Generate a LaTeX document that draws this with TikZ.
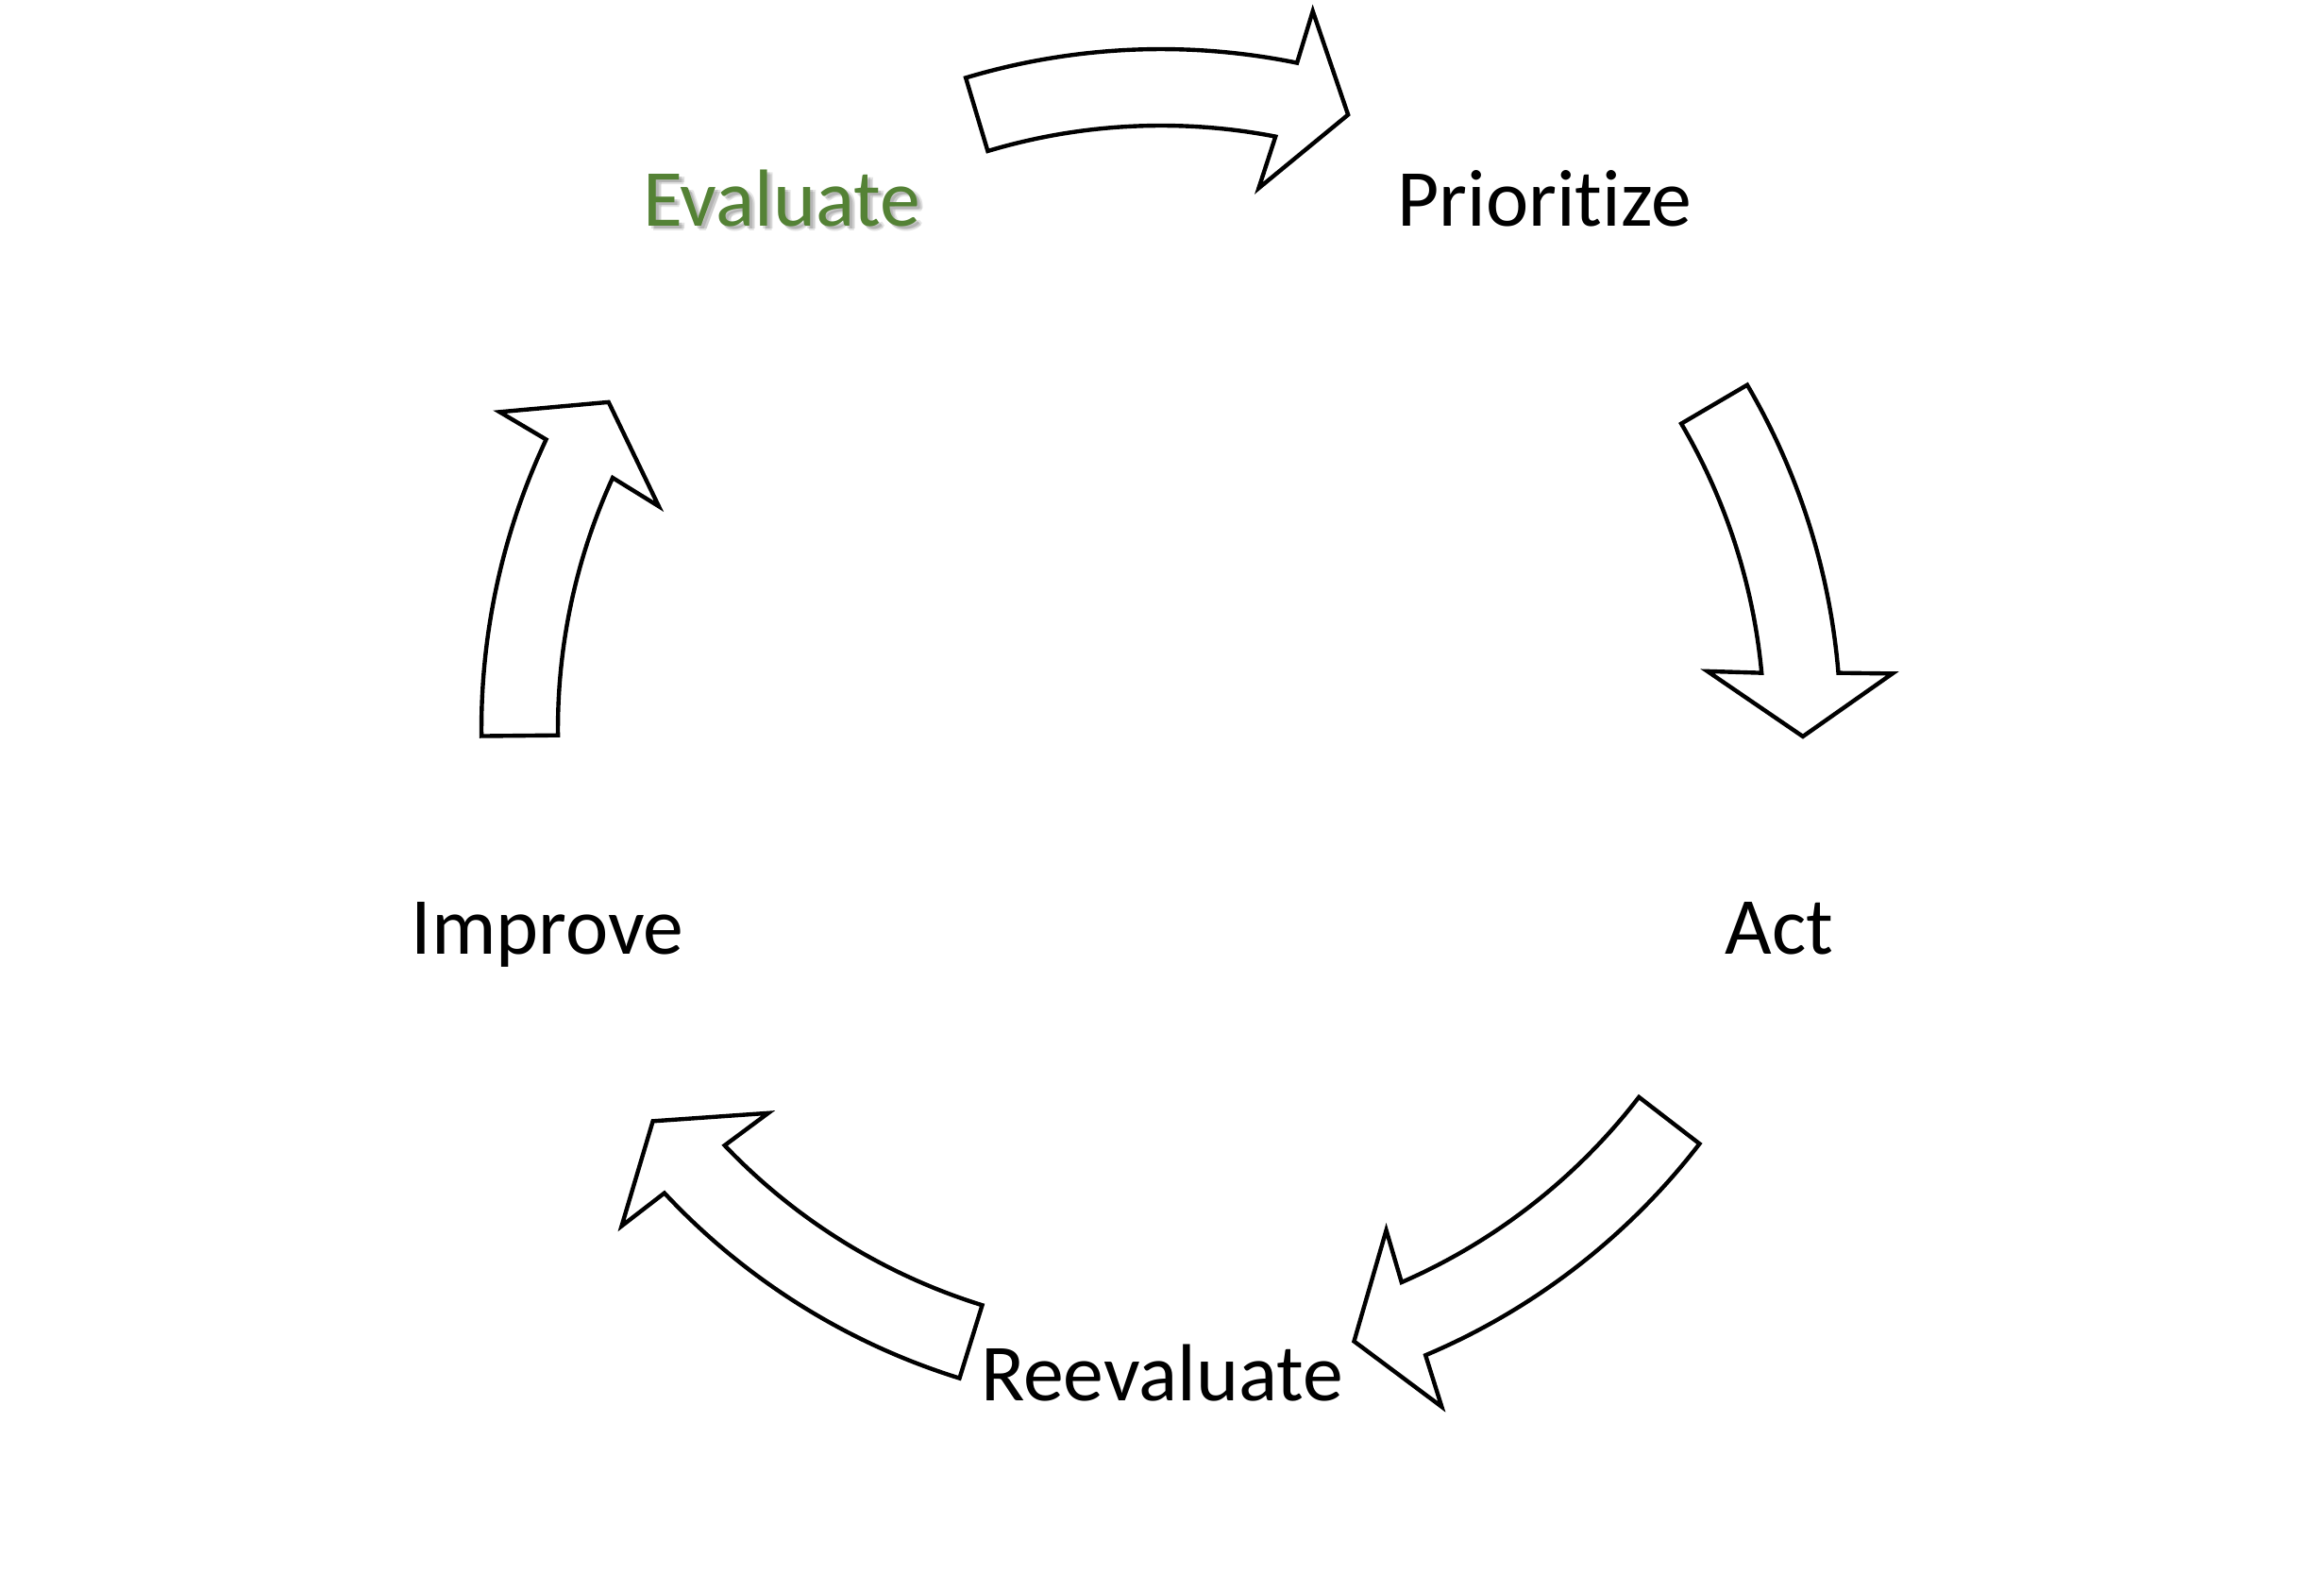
\documentclass[tikz,border=0pt]{standalone}
\usepackage{fontspec}
\setmainfont{Carlito}[Ligatures={NoCommon}]
\usetikzlibrary{calc}
\definecolor{evgreen}{HTML}{548235}
\tikzset{
  cyclearrowstyle/.style={draw=black, line width=1.25pt, fill=white, line join=miter},
  steplabel/.style={anchor=base, inner sep=0pt, font=\fontsize{24.4pt}{29pt}\selectfont},
  shadowlabel/.style={steplabel, text=black, text opacity=#1},
}
\newcommand\cyclearrow[2]{%
  \draw[cyclearrowstyle] ($(C)+(#1:7.20cm)$) arc[start angle=#1, end angle={#2+5.4}, radius=7.20cm]
    -- ($(C)+({#2+5.0}:7.77cm)$) -- ($(C)+(#2:6.80cm)$) -- ($(C)+({#2+6.7}:5.82cm)$)
    -- ($(C)+({#2+6.0}:6.39cm)$) arc[start angle={#2+6.0}, end angle=#1, radius=6.39cm] -- cycle;}
\begin{document}
\begin{tikzpicture}
\useasboundingbox (0,0) rectangle (24.62,16.67);
\coordinate (C) at (12.30,8.95);
% arrows (tail angle, tip angle)
\cyclearrow{106.7}{73.06}
\cyclearrow{30.4}{-0.67}
\cyclearrow{-37.6}{-72.5}
\cyclearrow{-107.25}{-142.35}
\cyclearrow{180.6}{149.4}
% labels
\node[shadowlabel=0.10] (evs1) at (8.33,14.22) {Evaluate};
\node[shadowlabel=0.12] (evs2) at (8.31,14.24) {Evaluate};
\node[shadowlabel=0.10] (evs3) at (8.34,14.24) {Evaluate};
\node[steplabel, text=evgreen] (ev) at (8.28,14.27) {Evaluate};
\node[steplabel] (pr) at (16.36,14.27) {Prioritize};
\node[steplabel] (act) at (18.85,6.57) {Act};
\node[steplabel] (re) at (12.31,1.84) {Reevaluate};
\node[steplabel] (im) at (5.80,6.57) {Improve};
\end{tikzpicture}
\end{document}
